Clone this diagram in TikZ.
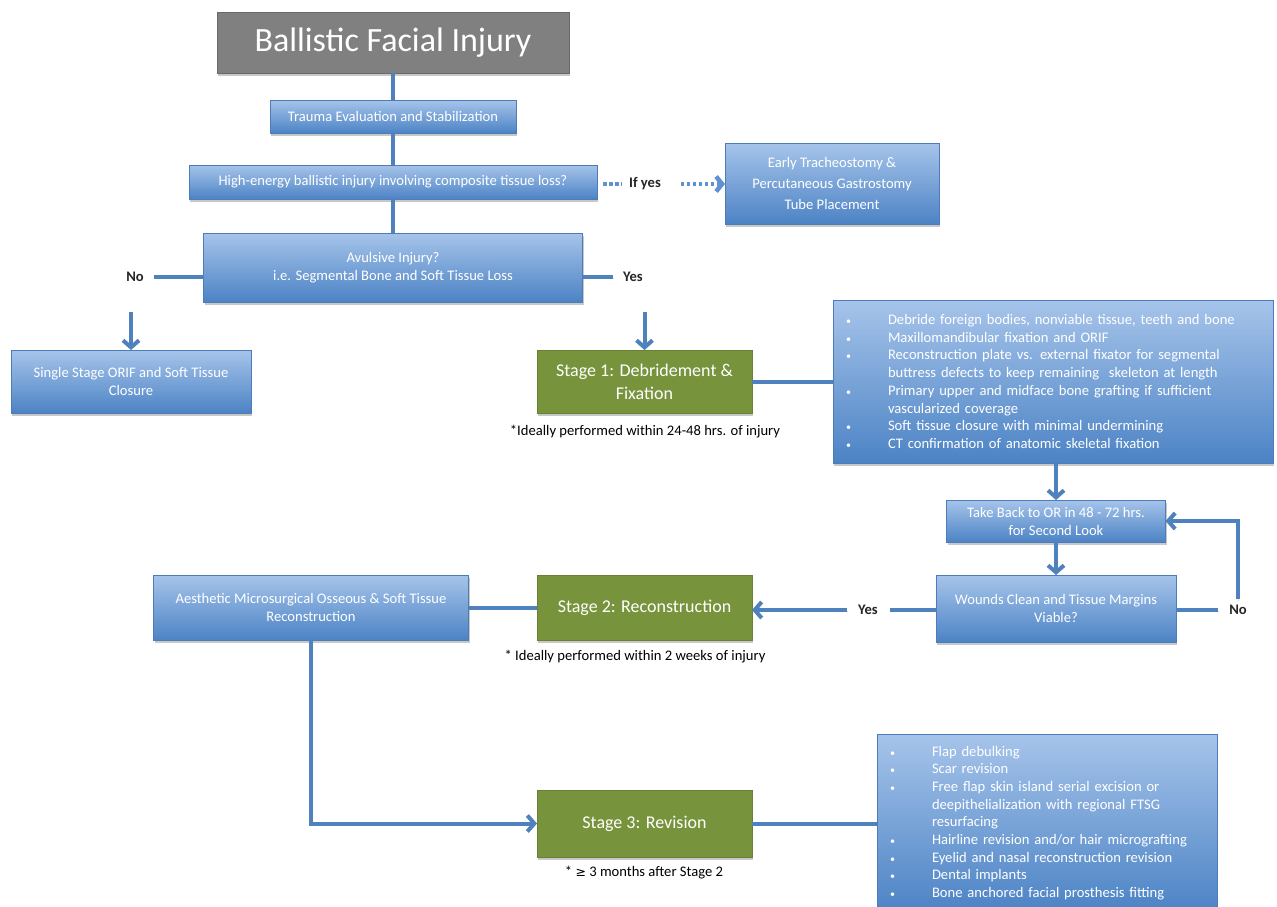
\documentclass[tikz,border=0pt]{standalone}
\usepackage{fontspec}
\setmainfont{Carlito}
\newfontfamily\symfnt{DejaVu Sans}
\usetikzlibrary{shadows,arrows.meta,calc}

\definecolor{boxtop}{RGB}{166,196,234}
\definecolor{boxbot}{RGB}{76,131,197}
\definecolor{boxedge}{RGB}{78,124,186}
\definecolor{stagegreen}{RGB}{119,147,60}
\definecolor{stageedge}{RGB}{104,130,52}
\definecolor{titlegray}{RGB}{128,128,128}
\definecolor{titleedge}{RGB}{104,104,110}
\definecolor{linkblue}{RGB}{79,129,189}
\definecolor{dotblue}{RGB}{96,146,208}

\newcommand\bodysize{\fontsize{14.6}{18}\selectfont}
\newcommand\listsize{\fontsize{14.6}{17.7}\selectfont}
\newcommand\bul{\makebox[43pt][l]{\hspace{1pt}{\fontsize{10}{10}\selectfont •}}}
\newcommand\cont{\hspace*{43pt}}

\begin{document}
\begin{tikzpicture}[x=1pt,y=-1pt,
  every node/.style={inner sep=0pt,outer sep=0pt},
  boxbase/.style={rectangle,line width=0.8pt,text=white,align=center,
    font=\bodysize,
    drop shadow={shadow xshift=1pt,shadow yshift=-3pt,opacity=0.3,fill=black!70}},
  bluebox/.style={boxbase,draw=boxedge,top color=boxtop,bottom color=boxbot},
  listbox/.style={bluebox,align=left,font=\listsize,inner xsep=12pt},
  stagebox/.style={boxbase,draw=stageedge,fill=stagegreen,
    font=\fontsize{18}{23}\selectfont},
  titlebox/.style={boxbase,draw=titleedge,fill=titlegray,
    font=\fontsize{34}{40}\selectfont},
  lbl/.style={font=\bodysize\bfseries,text=black!85},
  note/.style={font=\bodysize,text=black},
  linkshade/.style={preaction={draw=black!45,opacity=0.3,
    transform canvas={xshift=0.6pt,yshift=-1.6pt}}},
  link/.style={draw=linkblue,line width=4pt,linkshade},
  arrowlink/.style={link,-{Straight Barb[length=7pt,width=16pt]}},
  dotlink/.style={draw=dotblue,line width=4.5pt,dash pattern=on 3.5pt off 2.5pt}
]
\useasboundingbox (0,0) rectangle (1277,907);
\fill[white] (0,0) rectangle (1277,907);

% ---------- entry and triage ----------
\node[titlebox,minimum width=352,minimum height=61] (title) at (393,42.5) {Ballistic Facial Injury};
\node[bluebox,minimum width=246,minimum height=33] (trauma) at (393,116.5) {Trauma Evaluation and Stabilization};
\node[bluebox,minimum width=408,minimum height=34] (high) at (393,182) {High-energy ballistic injury involving composite tissue loss?};
\node[bluebox,minimum width=214,minimum height=81,font=\fontsize{14.6}{21}\selectfont] (early) at (832,183.5)
  {Early Tracheostomy \&\\Percutaneous Gastrostomy\\Tube Placement};
\node[lbl] (ifyes) at (645,184) {If yes};

\node[bluebox,minimum width=379,minimum height=69] (avul) at (393,267.5)
  {Avulsive Injury?\\i.e. Segmental Bone and Soft Tissue Loss};
\node[lbl] (no1) at (135,277) {No};
\node[lbl] (yes1) at (633,277) {Yes};
\coordinate (noDown) at (131,312);
\coordinate (yesDown) at (644.5,312);

\node[bluebox,minimum width=240,minimum height=63] (single) at (131,381.5)
  {Single Stage ORIF and Soft Tissue\\Closure};

% ---------- stage 1 ----------
\node[stagebox,minimum width=215,minimum height=63] (stage1) at (644.5,381.5)
  {Stage 1: Debridement \&\\Fixation};
\node[note] (note1) at (645,432) {*Ideally performed within 24-48 hrs. of injury};

\node[listbox,minimum width=440,minimum height=163,text width=416] (list1) at (1053,381.5)
  {\bul Debride foreign bodies, nonviable tissue, teeth and bone\\
   \bul Maxillomandibular fixation and ORIF\\
   \bul Reconstruction plate vs. external fixator for segmental\\
   \cont buttress defects to keep remaining\ \ skeleton at length\\
   \bul Primary upper and midface bone grafting if sufficient\\
   \cont vascularized coverage\\
   \bul Soft tissue closure with minimal undermining\\
   \bul CT confirmation of anatomic skeletal fixation};

\node[bluebox,minimum width=219,minimum height=42] (look) at (1056,521)
  {Take Back to OR in 48 - 72 hrs.\\for Second Look};
\node[bluebox,minimum width=240,minimum height=67] (wounds) at (1056,608.5)
  {Wounds Clean and Tissue Margins\\Viable?};
\node[lbl] (yes2) at (868,610) {Yes};
\node[lbl] (no2) at (1238,610) {No};

% ---------- stage 2 ----------
\node[stagebox,minimum width=215,minimum height=65] (stage2) at (644.5,607.5) {Stage 2: Reconstruction};
\node[note] (note2) at (635,657) {* Ideally performed within 2 weeks of injury};
\node[bluebox,minimum width=315,minimum height=65] (aes) at (311,607.5)
  {Aesthetic Microsurgical Osseous \& Soft Tissue\\Reconstruction};

% ---------- stage 3 ----------
\node[stagebox,minimum width=215,minimum height=67] (stage3) at (644.5,823.5) {Stage 3: Revision};
\node[note] (note3) at (644,873) {* {\symfnt\fontsize{12.5}{14}\selectfont ≥} 3 months after Stage 2};

\node[listbox,minimum width=340,minimum height=178,text width=316] (list2) at (1047,823)
  {\bul Flap debulking\\
   \bul Scar revision\\
   \bul Free flap skin island serial excision or\\
   \cont deepithelialization with regional FTSG\\
   \cont resurfacing\\
   \bul Hairline revision and/or hair micrografting\\
   \bul Eyelid and nasal reconstruction revision\\
   \bul Dental implants\\
   \bul Bone anchored facial prosthesis fitting};

% ---------- connectors ----------
\draw[link] (title.south) -- (trauma.north);
\draw[link] (trauma.south) -- (high.north);
\draw[link] (high.south) -- (avul.north);

\draw[dotlink,shorten <=6pt,shorten >=8pt] (high.east |- ifyes) -- (ifyes.west);
\draw[dotlink,-{Straight Barb[length=6pt,width=15pt]},shorten <=20pt] (ifyes.east) -- (early.west |- ifyes);

\draw[link,shorten >=10pt] (avul.west |- no1) -- (no1.east);
\draw[arrowlink] (noDown) -- (single.north);
\draw[link,shorten >=10pt] (avul.east |- yes1) -- (yes1.west);
\draw[arrowlink] (yesDown) -- (stage1.north);

\draw[link] (stage1.east) -- (list1.west |- stage1.east);
\draw[arrowlink] (look.north |- list1.south) -- (look.north);
\draw[arrowlink] (look.south) -- (wounds.north);

\draw[link,shorten >=12pt] (wounds.west |- yes2) -- (yes2.east);
\draw[arrowlink,shorten <=11pt] (yes2.west) -- (stage2.east |- yes2);
\draw[link,shorten >=11pt] (wounds.east |- no2) -- (no2.west);
\draw[arrowlink,shorten <=6pt] (no2.north) |- (look.east);

\draw[link] (stage2.west) -- (aes.east |- stage2.west);
\draw[arrowlink] (aes.south) |- (stage3.west);
\draw[link] (stage3.east) -- (list2.west |- stage3.east);
\end{tikzpicture}
\end{document}
